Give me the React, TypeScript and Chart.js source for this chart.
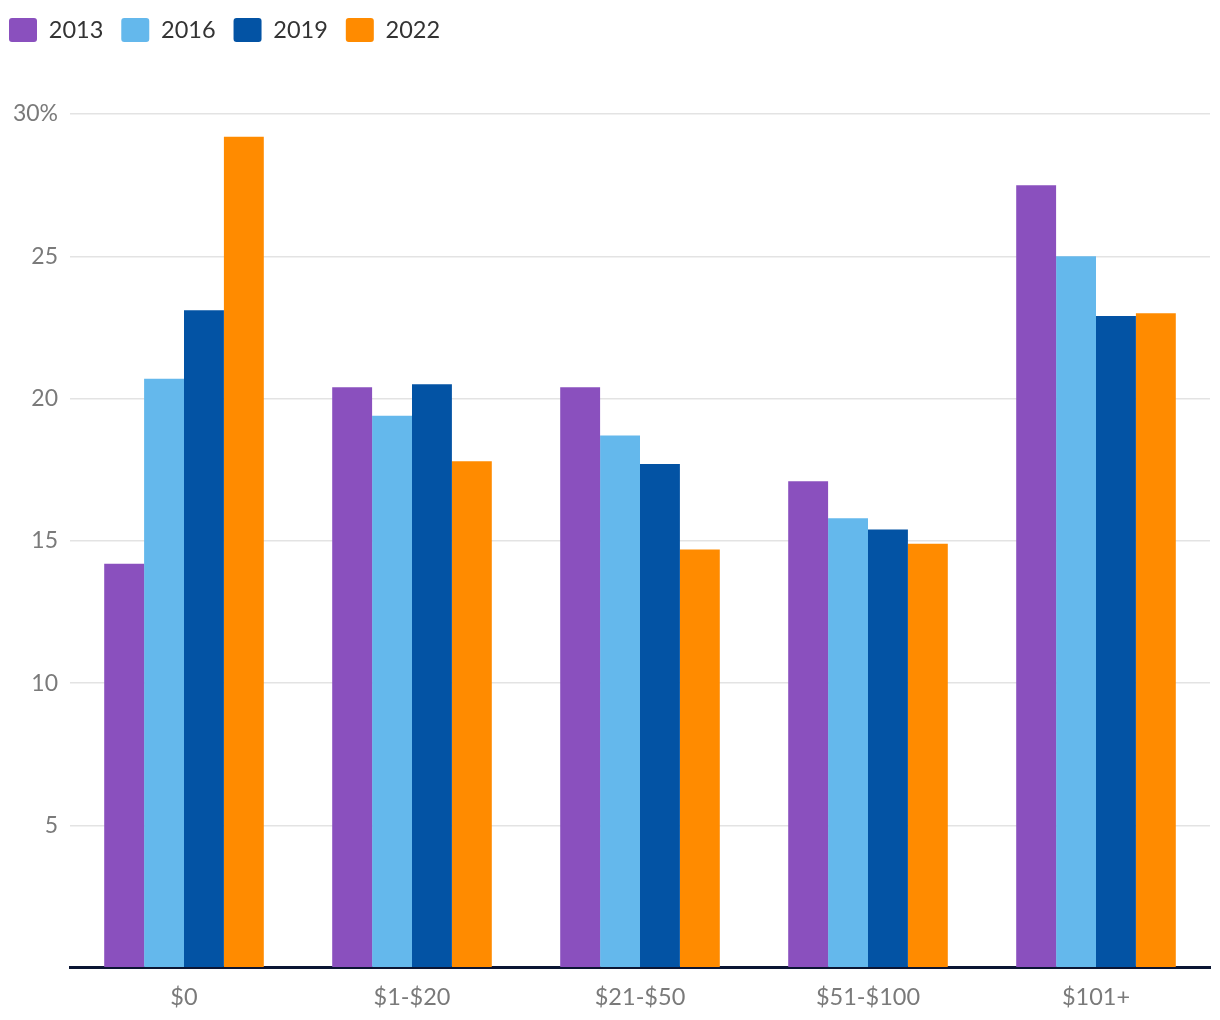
import React, { useEffect, useRef } from "react";
import { Chart, registerables } from "chart.js";

Chart.register(...registerables);

const categories = ["$0", "$1-$20", "$21-$50", "$51-$100", "$101+"];
const seriesNames = ["2013", "2016", "2019", "2022"];
const values2013 = [14.2, 20.4, 20.4, 17.1, 27.5];
const values2016 = [20.7, 19.4, 18.7, 15.8, 25.0];
const values2019 = [23.1, 20.5, 17.7, 15.4, 22.9];
const values2022 = [29.2, 17.8, 14.7, 14.9, 23.0];
const colors = ["#8a50be", "#64b8ec", "#0353a4", "#ff8b00"];
const yTicks = [0, 5, 10, 15, 20, 25, 30];

export default function App() {
  const ref = useRef<HTMLCanvasElement | null>(null);
  useEffect(() => {
    if (!ref.current) return;
    const all = [values2013, values2016, values2019, values2022];
    const font = "'Lato', 'Noto Sans', sans-serif";
    const chart = new Chart(ref.current, {
      type: "bar",
      data: {
        labels: categories,
        datasets: seriesNames.map((n, i) => ({
          label: n,
          data: all[i],
          backgroundColor: colors[i],
          borderWidth: 0,
          categoryPercentage: 0.7,
          barPercentage: 1,
        })),
      },
      options: {
        animation: false,
        responsive: false,
        maintainAspectRatio: false,
        layout: { padding: { top: 0, right: 10, left: 0, bottom: 0 } },
        plugins: {
          tooltip: { enabled: false },
          legend: {
            position: "top",
            align: "start",
            labels: {
              boxWidth: 28,
              boxHeight: 24,
              useBorderRadius: true,
              borderRadius: 3,
              padding: 18,
              color: "#333",
              font: { family: font, size: 23.5 },
            },
          },
        },
        scales: {
          x: {
            grid: { display: false },
            border: { display: true, color: "#0b1533", width: 3 },
            ticks: { color: "#7a7a7a", font: { family: font, size: 23.5 }, padding: 8 },
          },
          y: {
            min: 0,
            max: 30,
            afterBuildTicks: (axis: any) => {
              axis.ticks = yTicks.map((v) => ({ value: v }));
            },
            afterFit: (axis: any) => {
              axis.width = 70;
            },
            grid: { color: "#e3e3e3", lineWidth: 1.5, drawTicks: false },
            border: { display: false },
            ticks: {
              color: "#7a7a7a",
              font: { family: font, size: 23 },
              padding: 12,
              callback: (v: any) => (v === 30 ? "30%" : v === 0 ? "" : String(v)),
            },
          },
        },
      },
      plugins: [
        {
          id: "legendHeight",
          beforeInit(c: any) {
            const orig = c.legend.fit;
            c.legend.fit = function () {
              orig.call(this);
              this.height = 114;
            };
          },
          afterLayout(c: any) {
            c.legend.left -= 9;
          },
        },
      ],
    });
    return () => chart.destroy();
  }, []);
  return (
    <div style={{ position: "fixed", left: 0, top: 0, width: 1220, height: 1020, background: "#fff" }}>
      <canvas ref={ref} width={1220} height={1020} style={{ width: 1220, height: 1020 }} />
    </div>
  );
}
